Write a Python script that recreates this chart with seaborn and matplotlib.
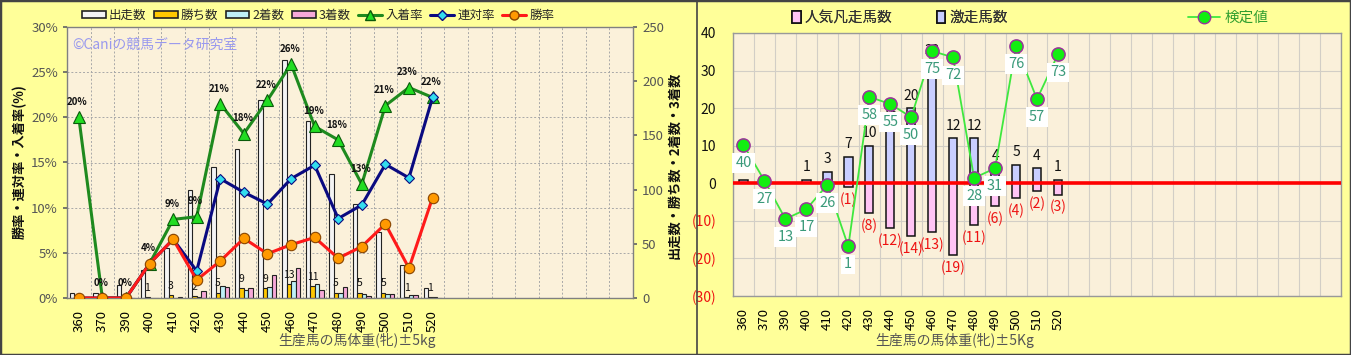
import numpy as np
import pandas as pd
import matplotlib
matplotlib.use('Agg')
import matplotlib.pyplot as plt
import seaborn as sns
from matplotlib.patches import Patch, Rectangle
from matplotlib.lines import Line2D
from matplotlib.ticker import FuncFormatter, FixedLocator

sns.set_theme(style='white')
plt.rcParams['font.family'] = ['Noto Sans CJK JP', 'DejaVu Sans']

# ---------------- data ----------------
weights = ['360', '370', '390', '400', '410', '420', '430', '440',
           '450', '460', '470', '480', '490', '500', '510', '520']
runners = [5, 5, 12, 26, 46, 100, 121, 137, 183, 220, 163, 114, 87, 61, 30, 9]
wins = [0, 0, 0, 1, 3, 2, 5, 9, 9, 13, 11, 5, 5, 5, 1, 1]
seconds = [0, 0, 0, 0, 0, 1, 11, 7, 10, 16, 13, 5, 4, 4, 3, 1]
thirds = [1, 0, 0, 0, 1, 6, 10, 9, 21, 28, 7, 10, 2, 4, 3, 0]
win_rate = [0, 0, 0, 3.8, 6.5, 2.0, 4.1, 6.6, 4.9, 5.9, 6.7, 4.4, 5.7, 8.2, 3.3, 11.1]
ren_rate = [0, 0, 0, 3.8, 6.5, 3.0, 13.2, 11.7, 10.4, 13.2, 14.7, 8.8, 10.3, 14.8, 13.3, 22.2]
top3_rate = [20, 0, 0, 3.8, 8.7, 9.0, 21.5, 18.2, 21.9, 25.9, 19.0, 17.5, 12.6, 21.3, 23.3, 22.2]
top3_labels = ['20%', '0%', '0%', '4%', '9%', '9%', '21%', '18%', '22%', '26%',
               '19%', '18%', '13%', '21%', '23%', '22%']

upset_count = [1, 0, 0, 1, 3, 7, 10, 15, 20, 32, 12, 12, 4, 5, 4, 1]
flop_count = [0, 0, 0, 0, 0, -1, -8, -12, -14, -13, -19, -11, -6, -4, -2, -3]
test_value = [10.2, 0.7, -9.5, -6.9, -0.4, -16.8, 23.0, 21.1, 17.6, 35.2,
              33.5, 1.4, 4.0, 36.5, 22.4, 34.3]
test_labels = [40, 27, 13, 17, 26, 1, 58, 55, 50, 75, 72, 28, 31, 76, 57, 73]

series_names = ['出走数', '勝ち数', '2着数', '3着数']
series_colors = ['#F4F4F4', '#FFC800', '#BFF0F8', '#F6A8D8']

W, H = 1351, 355
fig = plt.figure(figsize=(W / 100, H / 100), dpi=100, facecolor='#FFFF99')

def fx(px):
    return px / W

def fy(py):
    return 1 - py / H

# ---------------- left chart ----------------
axc = fig.add_axes([fx(67), fy(298), fx(633) - fx(67), fy(27) - fy(298)])
axc.set_facecolor('#FBF1DA')

df = pd.DataFrame({
    'weight': weights * 4,
    'count': runners + wins + seconds + thirds,
    'series': sum([[s] * len(weights) for s in series_names], []),
})
sns.barplot(data=df, x='weight', y='count', hue='series', order=weights,
            hue_order=series_names, palette=series_colors, width=0.76,
            edgecolor='#222222', linewidth=0.8, saturation=1, errorbar=None,
            legend=False, ax=axc, zorder=2)

n_slots_left = 24
axc.set_xlim(-0.5, n_slots_left - 0.5)
axc.set_ylim(0, 250)
axc.set_xticks(range(len(weights)))
axc.set_xticklabels(weights, rotation=90, fontsize=9.5, color='black')
axc.xaxis.set_minor_locator(FixedLocator(np.arange(-0.5, n_slots_left, 1)))
axc.grid(which='minor', axis='x', color='#A8A8A8', linestyle=(0, (2, 2)), lw=0.7)
for p in range(5, 30, 5):
    axc.axhline(p * 250 / 30, color='#A8A8A8', linestyle=(0, (2, 2)), lw=0.7, zorder=0.5)
axc.set_axisbelow(True)
axc.set_xlabel('')
axc.set_ylabel('')
for s in axc.spines.values():
    s.set_color('#808080')
    s.set_linewidth(1)

# wins labels
if len(axc.containers) >= 2:
    axc.bar_label(axc.containers[1], labels=[str(w) if w > 0 else '' for w in wins],
                  padding=3, fontsize=7.5, color='#111111')

axp = axc.twinx()
# counts on the right, percentages on the left
axc.yaxis.tick_right()
axc.yaxis.set_label_position('right')
axc.set_yticks(range(0, 251, 50))
axc.tick_params(axis='y', labelsize=9.5, labelcolor='#555555', right=True, left=False,
                labelright=True, labelleft=False, length=3, color='#666')
axc.tick_params(axis='x', bottom=False, pad=3)

axp.set_ylim(0, 30)
axp.yaxis.tick_left()
axp.yaxis.set_label_position('left')
axp.set_yticks(range(0, 31, 5))
axp.yaxis.set_major_formatter(FuncFormatter(lambda v, _: f'{int(v)}%'))
axp.tick_params(axis='y', labelsize=9.5, labelcolor='#555555', left=True, right=False,
                labelleft=True, labelright=False, length=3, color='#666')
for s in axp.spines.values():
    s.set_visible(False)
axp.grid(False)

xs = np.arange(len(weights))
sns.lineplot(x=xs, y=top3_rate, ax=axp, color='#1E8A1E', lw=2.2, marker='^',
             markersize=9, markerfacecolor='#22DD22', markeredgecolor='#0A5A0A',
             markeredgewidth=0.8, zorder=3)
sns.lineplot(x=xs, y=ren_rate, ax=axp, color='#0A0A80', lw=2.2, marker='D',
             markersize=5.5, markerfacecolor='#33DDEE', markeredgecolor='#0A0A80',
             markeredgewidth=0.8, zorder=4)
sns.lineplot(x=xs, y=win_rate, ax=axp, color='#FF1A1A', lw=2.2, marker='o',
             markersize=7.5, markerfacecolor='#FF9900', markeredgecolor='#884400',
             markeredgewidth=0.8, zorder=5)
axp.set_xlim(-0.5, n_slots_left - 0.5)
axp.set_ylabel('')
for i, (v, lab) in enumerate(zip(top3_rate, top3_labels)):
    axp.annotate(lab, (i, v), xytext=(-1, 11), textcoords='offset points',
                 ha='center', va='center', fontsize=7, fontweight='bold',
                 color='#111111', zorder=6)

fig.text(fx(72), fy(45), '©Caniの競馬データ研究室', color='#9999EE', fontsize=10, va='center')
fig.text(fx(20), fy(162), '勝率・連対率・入着率(%)', rotation=90, fontsize=9.5,
         fontweight='bold', ha='center', va='center', color='#111111')
fig.text(fx(674), fy(165), '出走数・勝ち数・2着数・3着数', rotation=90, fontsize=9.5,
         fontweight='bold', ha='center', va='center', color='#111111')
fig.text(fx(357), fy(340), '生産馬の馬体重(牝)±5kg', ha='center', va='center',
         fontsize=10, color='#555555')

left_handles = [
    Patch(facecolor=series_colors[0], edgecolor='#222', lw=1.2),
    Patch(facecolor=series_colors[1], edgecolor='#222', lw=1.2),
    Patch(facecolor=series_colors[2], edgecolor='#222', lw=1.2),
    Patch(facecolor=series_colors[3], edgecolor='#222', lw=1.2),
    Line2D([], [], color='#1E8A1E', lw=2.2, marker='^', markersize=7,
           markerfacecolor='#22DD22', markeredgecolor='#0A5A0A'),
    Line2D([], [], color='#0A0A80', lw=2.2, marker='D', markersize=5,
           markerfacecolor='#33DDEE', markeredgecolor='#0A0A80'),
    Line2D([], [], color='#FF1A1A', lw=2.2, marker='o', markersize=6.5,
           markerfacecolor='#FF9900', markeredgecolor='#884400'),
]
left_labels = series_names + ['入着率', '連対率', '勝率']
fig.legend(left_handles, left_labels, loc='center', bbox_to_anchor=(fx(318), fy(15)),
           ncol=7, frameon=False, fontsize=9, handlelength=1.9, handleheight=0.5,
           columnspacing=0.6, handletextpad=0.25)

# ---------------- right chart ----------------
ax2 = fig.add_axes([fx(733), fy(296), fx(1341) - fx(733), fy(33) - fy(296)])
ax2.set_facecolor('#FAF0DA')
n_slots_right = 29
sns.barplot(x=weights, y=upset_count, order=weights, color='#C9CEFF', width=0.4,
            edgecolor='#111111', linewidth=1.1, saturation=1, errorbar=None, ax=ax2, zorder=2)
sns.barplot(x=weights, y=flop_count, order=weights, color='#FFC4F4', width=0.4,
            edgecolor='#111111', linewidth=1.1, saturation=1, errorbar=None, ax=ax2, zorder=2)
ax2.set_xlim(-0.5, n_slots_right - 0.5)
ax2.set_ylim(-30, 40)
ax2.set_xticks(range(len(weights)))
ax2.set_xticklabels(weights, rotation=90, fontsize=9.5, color='black')
ax2.xaxis.set_minor_locator(FixedLocator(np.arange(-0.5, n_slots_right, 1)))
ax2.set_yticks(range(-30, 41, 10))
ylabs = [f'({-v})' if v < 0 else str(v) for v in range(-30, 41, 10)]
ax2.set_yticklabels(ylabs)
for t, v in zip(ax2.get_yticklabels(), range(-30, 41, 10)):
    t.set_color('#EE1111' if v < 0 else '#111111')
ax2.tick_params(axis='y', labelsize=10, left=False, pad=6)
ax2.tick_params(axis='x', bottom=False, pad=3)
ax2.grid(which='minor', axis='x', color='#D2CEC6', lw=0.8)
ax2.grid(which='major', axis='y', color='#D2CEC6', lw=0.8)
ax2.set_axisbelow(True)
ax2.set_xlabel('')
ax2.set_ylabel('')
for s in ax2.spines.values():
    s.set_color('#999999')
    s.set_linewidth(1)

ax2.axhline(0, color='#FF0000', lw=2.6, zorder=3)

if len(ax2.containers) >= 2:
    ax2.bar_label(ax2.containers[0], labels=[str(v) if v > 0 else '' for v in upset_count],
                  padding=4, fontsize=10, color='#111111')
    ax2.bar_label(ax2.containers[1], labels=[f'({-v})' if v < 0 else '' for v in flop_count],
                  padding=4, fontsize=10, color='#EE1111')

sns.lineplot(x=xs, y=test_value, ax=ax2, color='#3EE83E', lw=1.3, marker='o',
             markersize=9.5, markerfacecolor='#11EE11', markeredgecolor='#993399',
             markeredgewidth=1.1, zorder=4)
ax2.set_xlim(-0.5, n_slots_right - 0.5)
ax2.set_ylabel('')
for i, (v, lab) in enumerate(zip(test_value, test_labels)):
    ax2.annotate(str(lab), (i, v), xytext=(0, -13), textcoords='offset points',
                 ha='center', va='center', fontsize=10.5, color='#3A9A7A',
                 bbox=dict(boxstyle='square,pad=0.2', fc='white', ec='none'), zorder=6)

fig.text(fx(955), fy(340), '生産馬の馬体重(牝)±5Kg', ha='center', va='center',
         fontsize=10, color='#555555')

leg_a = fig.legend([Patch(facecolor='#FFC4F4', edgecolor='#111', lw=1.2),
                    Patch(facecolor='#C9CEFF', edgecolor='#111', lw=1.2)],
                   ['人気凡走馬数', '激走馬数'], loc='center',
                   bbox_to_anchor=(fx(900), fy(18)), ncol=2, frameon=False,
                   fontsize=10.5, handlelength=0.6, handleheight=0.8,
                   columnspacing=3.0, handletextpad=0.3, labelcolor='#333333')
leg_b = fig.legend([Line2D([], [], color='#3EE83E', lw=1.3, marker='o', markersize=9,
                           markerfacecolor='#11EE11', markeredgecolor='#993399')],
                   ['検定値'], loc='center', bbox_to_anchor=(fx(1228), fy(18)),
                   frameon=False, fontsize=10.5, handlelength=2.2,
                   handletextpad=0.3, labelcolor='#2E9E2E')
fig.add_artist(leg_a)

# frames
fig.add_artist(Rectangle((0, 0), 1, 1, transform=fig.transFigure, fill=False,
                         ec='#444444', lw=2.5))
fig.add_artist(Line2D([fx(697), fx(697)], [0, 1], transform=fig.transFigure,
                      color='#444444', lw=1.2))

fig.savefig('out.png', dpi=100, facecolor=fig.get_facecolor())
